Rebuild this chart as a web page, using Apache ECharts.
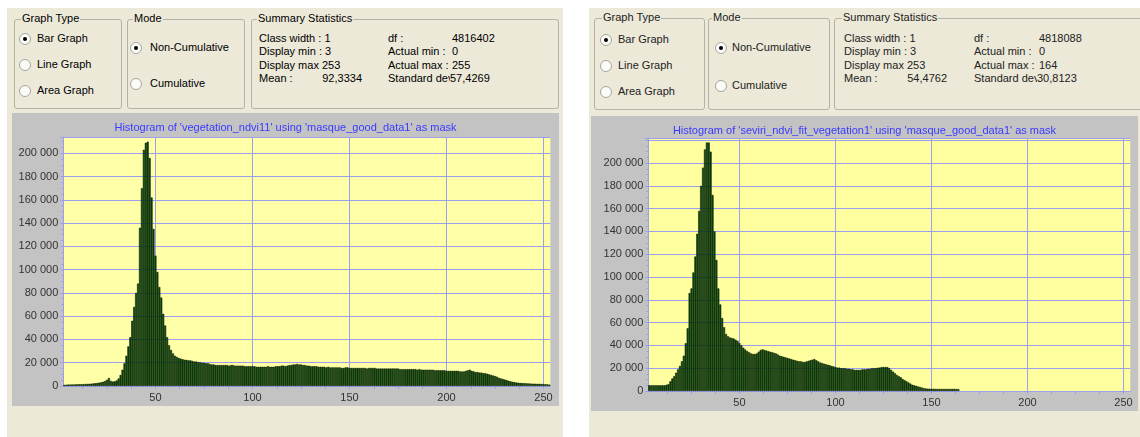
<!DOCTYPE html>
<html>
<head>
<meta charset="utf-8">
<script src="https://cdn.jsdelivr.net/npm/echarts@6/dist/echarts.min.js"></script>
<style>
  body { margin: 0; width: 1140px; height: 437px; position: relative; overflow: hidden; background: #fff;
         font-family: 'Liberation Sans', Arial, sans-serif; font-size: 11px; }
  .win { position: absolute; background: #ece9d8; }
  .box { position: absolute; border: 1px solid #b4b2a4; border-radius: 3px; }
  .t { position: absolute; line-height: 13px; white-space: nowrap; color: #000; }
  .lbl { background: #ece9d8; padding: 0 1px; }
  .r { position: absolute; width: 10px; height: 10px; border-radius: 50%; border: 1px solid #a6a6a0; background: #fbfbf8; }
  .r.on::after { content: ''; position: absolute; left: 3px; top: 3px; width: 4px; height: 4px; border-radius: 50%; background: #000; }
  .clip { display: inline-block; overflow: hidden; vertical-align: top; }
  .right .t { color: #222; }
  .chart { position: absolute; }
</style>
</head>
<body>
<div class="win" style="left:7px;top:8px;width:556px;height:429px"></div>
<div class="win" style="left:589px;top:8px;width:551px;height:429px"></div>

<!-- left dialog -->
<div class="box" style="left:14px;top:19px;width:106px;height:88px"></div>
<div class="t lbl" style="left:21px;top:12px">Graph Type</div>
<div class="r on" style="left:19px;top:33px"></div><div class="t" style="left:37px;top:32px">Bar Graph</div>
<div class="r" style="left:19px;top:59px"></div><div class="t" style="left:37px;top:58px">Line Graph</div>
<div class="r" style="left:19px;top:85px"></div><div class="t" style="left:37px;top:84px">Area Graph</div>

<div class="box" style="left:127px;top:19px;width:116px;height:88px"></div>
<div class="t lbl" style="left:133px;top:12px">Mode</div>
<div class="r on" style="left:130px;top:42px"></div><div class="t" style="left:150px;top:41px">Non-Cumulative</div>
<div class="r" style="left:130px;top:78px"></div><div class="t" style="left:150px;top:77px">Cumulative</div>

<div class="box" style="left:251px;top:19px;width:306px;height:88px"></div>
<div class="t lbl" style="left:257px;top:12px">Summary Statistics</div>
<div class="t" style="left:259px;top:32px">Class width : 1</div>
<div class="t" style="left:259px;top:45px">Display min : 3</div>
<div class="t" style="left:259px;top:59px">Display max 253</div>
<div class="t" style="left:259px;top:72px">Mean :</div>
<div class="t" style="left:321px;top:72px;width:41px;text-align:right">92,3334</div>
<div class="t" style="left:388px;top:32px">df :</div>
<div class="t" style="left:452px;top:32px">4816402</div>
<div class="t" style="left:388px;top:45px">Actual min :</div>
<div class="t" style="left:452px;top:45px">0</div>
<div class="t" style="left:388px;top:59px">Actual max :</div>
<div class="t" style="left:452px;top:59px">255</div>
<div class="t" style="left:388px;top:72px"><span class="clip" style="width:62px">Standard deviation</span>57,4269</div>

<!-- right dialog -->
<div class="right">
<div class="box" style="left:594px;top:18px;width:109px;height:90px"></div>
<div class="t lbl" style="left:602px;top:11px">Graph Type</div>
<div class="r on" style="left:600px;top:34px"></div><div class="t" style="left:618px;top:33px">Bar Graph</div>
<div class="r" style="left:600px;top:60px"></div><div class="t" style="left:618px;top:59px">Line Graph</div>
<div class="r" style="left:600px;top:86px"></div><div class="t" style="left:618px;top:85px">Area Graph</div>

<div class="box" style="left:708px;top:18px;width:120px;height:90px"></div>
<div class="t lbl" style="left:712px;top:11px">Mode</div>
<div class="r on" style="left:715px;top:42px"></div><div class="t" style="left:732px;top:41px">Non-Cumulative</div>
<div class="r" style="left:715px;top:80px"></div><div class="t" style="left:732px;top:79px">Cumulative</div>

<div class="box" style="left:834px;top:18px;width:360px;height:90px"></div>
<div class="t lbl" style="left:842px;top:11px">Summary Statistics</div>
<div class="t" style="left:844px;top:32px">Class width : 1</div>
<div class="t" style="left:844px;top:45px">Display min : 3</div>
<div class="t" style="left:844px;top:59px">Display max 253</div>
<div class="t" style="left:844px;top:72px">Mean :</div>
<div class="t" style="left:905px;top:72px;width:42px;text-align:right">54,4762</div>
<div class="t" style="left:974px;top:32px">df :</div>
<div class="t" style="left:1039px;top:32px">4818088</div>
<div class="t" style="left:974px;top:45px">Actual min :</div>
<div class="t" style="left:1039px;top:45px">0</div>
<div class="t" style="left:974px;top:59px">Actual max :</div>
<div class="t" style="left:1039px;top:59px">164</div>
<div class="t" style="left:974px;top:72px"><span class="clip" style="width:63px">Standard deviation</span>30,8123</div>
</div>

<div id="chartL" class="chart" style="left:12px;top:113px;width:547px;height:293px"></div>
<div id="chartR" class="chart" style="left:591px;top:116px;width:547px;height:295px"></div>

<script>
// first class value of every histogram (Display min)
const firstClass = 3

// x axis labels / ticks
const xLabels = [50, 100, 150, 200, 250]
const xTicks = [12.5, 25, 37.5, 50, 62.5, 75, 87.5, 100, 112.5, 125, 137.5, 150, 162.5, 175, 187.5, 200, 212.5, 225, 237.5, 250]

// counts per class, 'vegetation_ndvi11' (classes 3..253)
const countsVeg = [
  1000, 1100, 1200, 1200, 1300, 1300, 1400, 1400, 1500, 1500,
  1600, 1700, 1800, 1900, 2000, 2200, 2400, 2600, 2900, 3200,
  3600, 4200, 5400, 6900, 4400, 3800, 4000, 4800, 6500, 9500,
  14000, 19500, 26000, 34000, 42000, 56000, 68000, 80000, 88000, 136000,
  170000, 203000, 209000, 210000, 196000, 162000, 135000, 112000, 98000, 85000,
  76000, 62000, 52000, 42000, 35000, 31000, 28000, 26000, 25000, 24000,
  23500, 23000, 22500, 22500, 22000, 22000, 21500, 21000, 21000, 20500,
  20500, 20000, 20000, 19500, 19500, 19000, 18500, 18500, 18000, 18000,
  18000, 18000, 18000, 18000, 18000, 17500, 18000, 18000, 17500, 17500,
  17500, 17500, 17500, 17000, 17000, 17000, 17000, 17000, 17000, 16500,
  16500, 16500, 16500, 16500, 16500, 17000, 16500, 16500, 16500, 17000,
  17000, 17000, 17500, 17500, 17000, 17500, 18000, 18000, 18500, 18500,
  19000, 18500, 18500, 18000, 18000, 17500, 17500, 17000, 17000, 17000,
  17000, 16500, 16500, 16500, 16500, 16000, 16500, 16000, 16000, 16000,
  16000, 16000, 16000, 15500, 15500, 16000, 16000, 15500, 15500, 15500,
  15500, 15500, 15500, 15500, 15500, 15500, 15000, 15500, 15500, 15500,
  15500, 15000, 15000, 15000, 15000, 15000, 15000, 15000, 15000, 15000,
  15000, 15000, 15000, 14500, 14500, 14500, 14500, 14500, 14500, 14500,
  14500, 14500, 14000, 14500, 14000, 14000, 14000, 14000, 14000, 14000,
  14000, 13500, 13500, 13500, 13500, 13500, 13500, 13000, 13000, 13000,
  13000, 13000, 13000, 13000, 12500, 12500, 12500, 13000, 13500, 14000,
  13000, 12500, 12000, 12000, 11500, 11500, 11000, 11000, 10500, 10000,
  9500, 9000, 8500, 8000, 7000, 6500, 6000, 5500, 5000, 4500,
  4000, 3600, 3300, 3000, 2800, 2600, 2500, 2400, 2300, 2200,
  2100, 2000, 2000, 1900, 1800, 1800, 1700, 1600, 1500, 1400, 1200
]

// counts per class, 'seviri_ndvi_fit_vegetation1' (classes 3..164)
const countsSev = [
  5000, 5000, 5000, 5000, 5000, 5000, 5000, 5000, 5000, 5500,
  6000, 8500, 11000, 13000, 16000, 19000, 22000, 26000, 31000, 42000,
  55000, 86000, 90000, 104000, 118000, 138000, 158000, 180000, 196000, 212000,
  218000, 218000, 210000, 172000, 140000, 115000, 90000, 76000, 64000, 56000,
  50000, 48000, 47000, 46500, 46000, 45000, 44000, 42000, 40000, 38000,
  36500, 35000, 34000, 33000, 32500, 32500, 33000, 34500, 36000, 36500,
  36000, 35500, 35000, 34500, 34000, 33500, 33000, 32000, 31000, 30500,
  30000, 29500, 29000, 28500, 28000, 27500, 27000, 26500, 26000, 26000,
  25500, 25500, 26000, 26500, 27000, 27500, 28000, 27000, 26000, 25000,
  24500, 24000, 23500, 23000, 22500, 22000, 21500, 21000, 20500, 20500,
  20000, 20000, 20000, 19500, 19500, 19000, 19000, 18500, 18500, 18500,
  18500, 19000, 19000, 19000, 19500, 19500, 20000, 20000, 20000, 20500,
  20500, 21000, 21000, 21000, 21000, 20000, 18500, 17000, 15500, 14000,
  13000, 12000, 10500, 9500, 8500, 7500, 6500, 5500, 5000, 4500,
  4000, 3500, 3000, 2500, 2200, 2000, 2000, 1900, 1900, 1800,
  1800, 1800, 1800, 1800, 1800, 1800, 1800, 1800, 1800, 1800,
  1700, 1700
]

const gridBlue = '#9d9df2'
// '200 000' style labels, nothing above 200 000
const fmtThousands = (v) => (v > 200000 ? '' : String(v).replace(/\B(?=(\d{3})+(?!\d))/g, ' '))

// builds one histogram option
const makeOption = (title, counts, yMax, grid, yellow) => ({
  animation: false,
  backgroundColor: '#c3c3c3',
  textStyle: { fontFamily: 'Liberation Sans, Arial, sans-serif' },
  title: {
    text: title,
    left: 'center',
    top: 4,
    textStyle: { color: '#3a3aff', fontSize: 11, fontWeight: 'normal' },
  },
  grid: Object.assign({ show: true, backgroundColor: yellow, borderWidth: 0 }, grid),
  xAxis: {
    type: 'value',
    min: 2.5,
    max: 253.5,
    axisLine: { lineStyle: { color: gridBlue } },
    axisTick: { customValues: xTicks, length: 3, lineStyle: { color: gridBlue } },
    axisLabel: { customValues: xLabels, color: '#333', fontSize: 11, margin: 6 },
    splitLine: { show: false },
  },
  yAxis: {
    type: 'value',
    min: 0,
    max: yMax,
    interval: 20000,
    axisLine: { show: true, lineStyle: { color: gridBlue } },
    axisTick: { show: true, length: 3, lineStyle: { color: gridBlue } },
    minorTick: { show: true, splitNumber: 4, length: 2, lineStyle: { color: gridBlue } },
    axisLabel: { formatter: fmtThousands, showMaxLabel: false, color: '#333', fontSize: 11, margin: 5 },
    splitLine: { lineStyle: { color: gridBlue, width: 1 } },
  },
  series: [
    {
      // vertical grid lines behind the bars
      type: 'line',
      data: [],
      z: 1,
      silent: true,
      markLine: {
        z: 1,
        silent: true,
        symbol: 'none',
        label: { show: false },
        lineStyle: { color: gridBlue, type: 'solid', width: 1 },
        data: xLabels.map((v) => ({ xAxis: v })),
      },
    },
    {
      type: 'bar',
      z: 3,
      barWidth: '100%',
      data: counts.map((c, i) => [firstClass + i, c]),
      itemStyle: { color: '#0a4d0a', borderColor: '#001200', borderWidth: 0.5 },
    },
  ],
})

// grid.left has a fraction so the vertical grid lines land on whole pixels
const chartL = echarts.init(document.getElementById('chartL'))
chartL.setOption(makeOption(
  "Histogram of 'vegetation_ndvi11' using 'masque_good_data1' as mask",
  countsVeg, 214000, { left: 51.33, right: 8.67, top: 24, bottom: 20 }, '#ffffa8'))

const chartR = echarts.init(document.getElementById('chartR'))
chartR.setOption(makeOption(
  "Histogram of 'seviri_ndvi_fit_vegetation1' using 'masque_good_data1' as mask",
  countsSev, 222000, { left: 57.27, right: 7.73, top: 22, bottom: 20 }, '#ffffa0'))
</script>
</body>
</html>
